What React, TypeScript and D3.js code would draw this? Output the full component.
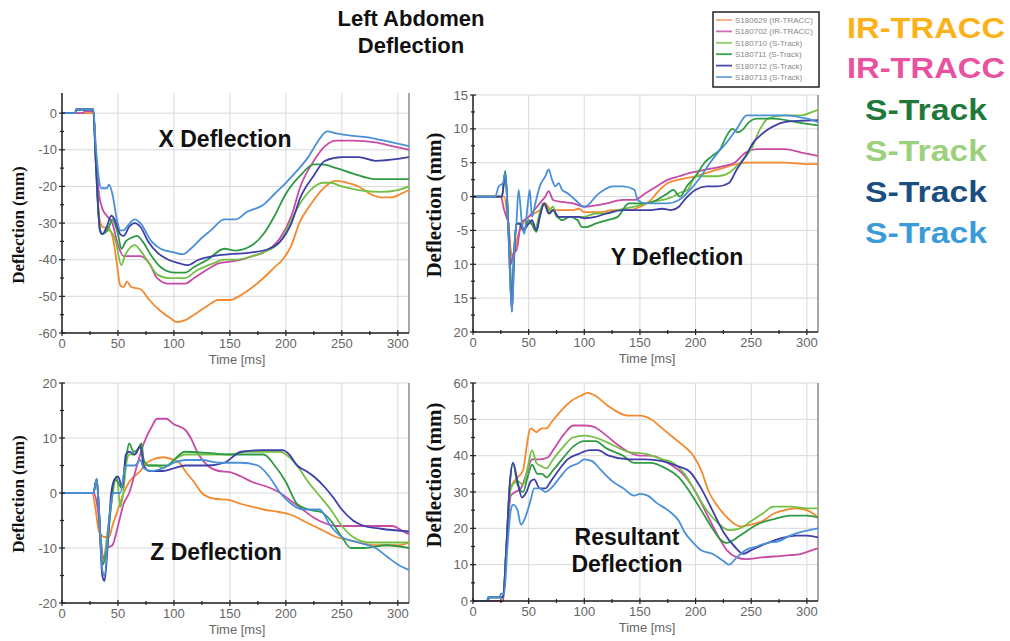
import React from "react";
import * as d3 from "d3";

type P = [number, number];

const SERIES_NAMES = ["S180629 (IR-TRACC)", "S180702 (IR-TRACC)", "S180710 (S-Track)", "S180711 (S-Track)", "S180712 (S-Track)", "S180713 (S-Track)"];
const SERIES_COLORS = ["#f5892e", "#c74aa6", "#74c044", "#2f9a44", "#3e3fa8", "#4a8fd8"];
const LEGEND_COLORS = ["#f7a784", "#cf6ab8", "#8ccc62", "#3aa34e", "#4a4ab0", "#6aa6e0"];

const SIDE_LABELS = ["IR-TRACC", "IR-TRACC", "S-Track", "S-Track", "S-Track", "S-Track"];
const SIDE_COLORS = ["#fbb21a", "#e8529e", "#1f7a3a", "#9bd07c", "#1a4e80", "#3a9bd8"];

const TIME_TICKS = [0, 50, 100, 150, 200, 250, 300];
const X_TICKS = [0, -10, -20, -30, -40, -50, -60];
const X_LABELS = ["0", "-10", "-20", "-30", "-40", "-50", "-60"];
const Y_TICKS = [15, 10, 5, 0, -5, -10, -15, -20];
const Y_LABELS = ["15", "10", "5", "0", "-5", "10", "15", "20"];
const Z_TICKS = [20, 10, 0, -10, -20];
const Z_LABELS = ["20", "10", "0", "-10", "-20"];
const R_TICKS = [0, 10, 20, 30, 40, 50, 60];
const R_LABELS = ["0", "10", "20", "30", "40", "50", "60"];

// X deflection
const X_629: P[] = [[0,0],[28,0],[30,-10],[33,-28],[36,-31],[42,-31.5],[46,-35],[49,-41],[52,-47],[55,-47.5],[58,-46],[62,-47.5],[70,-48],[78,-51],[88,-54],[97,-56],[103,-57],[110,-56.5],[118,-55],[128,-53],[140,-51],[150,-51],[158,-50],[168,-48],[180,-45],[190,-42],[197,-40],[205,-36],[212,-30],[222,-25],[232,-21],[245,-18.5],[255,-19],[265,-20],[275,-22],[285,-23],[295,-23],[303,-22],[310,-21]];
const X_702: P[] = [[0,0],[19,0],[20,0.5],[28,0.5],[30,-10],[33,-22],[36,-26],[40,-28],[45,-30],[50,-36],[55,-39],[62,-39],[70,-39],[78,-41],[85,-45],[95,-46.5],[110,-46.5],[118,-45],[128,-43],[140,-41],[150,-40.5],[160,-40],[170,-39],[180,-38],[195,-34],[205,-28],[213,-20],[225,-13],[235,-9],[245,-7.5],[260,-7.5],[280,-8],[295,-9],[310,-10]];
const X_710: P[] = [[0,0],[12,0],[12.5,1],[28,1],[30,-12],[34,-32],[36,-33],[42,-32],[48,-35],[53,-41.5],[56,-39],[60,-37],[65,-36],[70,-37.5],[78,-41],[85,-44],[95,-45],[110,-45],[120,-43],[135,-41],[145,-40],[155,-40],[170,-39],[180,-38],[195,-35],[202,-31],[212,-25],[222,-21],[233,-19],[240,-19],[250,-20],[265,-21],[285,-21.5],[300,-21],[310,-20]];
const X_711: P[] = [[0,0],[12,0],[12.5,1],[28,1],[30,-12],[34,-32],[36,-33],[42,-31],[45,-29],[50,-33],[53,-37],[57,-35],[62,-34],[67,-33.5],[72,-35],[80,-39],[88,-42],[100,-43.5],[110,-43.5],[118,-42],[130,-40],[145,-37],[155,-37.5],[170,-36],[180,-33],[190,-28],[200,-22],[213,-17],[225,-14],[232,-14],[245,-15],[260,-16.5],[280,-18],[310,-18]];
const X_712: P[] = [[0,0],[12,0],[12.5,1],[28,1],[30,-12],[34,-32],[36,-33],[40,-31],[44,-28],[47,-29],[52,-33],[55,-33.5],[60,-31],[65,-30],[70,-31],[77,-35],[85,-38],[95,-40],[105,-41],[112,-41.5],[122,-40],[135,-39],[150,-38.5],[170,-38],[185,-37],[195,-35],[205,-30],[213,-23],[225,-17],[235,-13],[250,-12],[265,-12],[280,-13],[300,-12.5],[310,-12]];
const X_713: P[] = [[0,0],[12,0],[12.5,1],[28,1],[30,-8],[33,-18],[35,-20.5],[40,-20.5],[42,-19.5],[45,-22],[49,-29],[52,-32],[55,-32],[58,-31],[65,-29],[70,-30],[80,-35],[88,-37],[100,-38],[108,-38.5],[115,-37],[125,-34],[133,-32],[145,-29],[155,-29],[165,-27],[180,-25],[190,-22],[200,-19],[212,-15],[220,-12],[228,-8],[237,-5],[245,-5.5],[255,-6],[270,-6.5],[280,-7],[295,-8],[310,-9]];

// Y deflection
const Y_629: P[] = [[0,0],[28,0],[31,-3],[34,-8],[36,-9],[40,-6],[45,-4],[50,-3],[55,-2.5],[60,-2],[65,-1],[70,-2],[80,-2],[90,-2],[95,-1.8],[100,-2.3],[115,-2.3],[125,-2],[140,-2],[150,-1.5],[160,-0.5],[165,0.5],[175,2],[185,2.5],[200,3],[210,3.5],[220,4],[230,4.5],[245,5],[260,5],[280,5],[300,4.8],[310,4.8]];
const Y_702: P[] = [[0,0],[25,0],[28,-2],[30,-3],[32,-4],[34,-10],[37,-8],[39,-8],[43,-4],[50,-3],[55,-2],[60,-1],[65,0],[68,0.8],[72,-0.5],[80,-0.8],[90,-1],[100,-1.5],[110,-1.3],[120,-1],[135,-0.5],[145,-0.5],[155,0.5],[165,1.5],[175,2.5],[185,3],[195,3.5],[210,4],[225,4.5],[235,5],[245,6.5],[255,7],[280,7],[295,6.5],[310,6]];
const Y_710: P[] = [[0,0],[26,0],[29,3.7],[32,-5],[35,-14],[37,-8],[39,-4],[43,-4],[46,-5],[49,-4],[52,-4],[56,-5],[59,-3],[63,-1],[68,-2],[72,-1.5],[75,-3],[80,-3],[90,-3],[100,-3],[110,-2.5],[120,-2.5],[130,-2],[145,-1.5],[155,-1],[170,-0.5],[180,0],[185,0.5],[193,1],[200,3],[210,3],[220,3],[230,3.5],[240,5],[250,7],[258,10],[265,11.5],[280,12],[295,12],[305,12.5],[310,12.8]];
const Y_711: P[] = [[0,0],[26,0],[29,3.8],[32,-5],[35,-14.5],[37,-8],[39,-4],[43,-4],[46,-5],[50,-3.5],[53,-4],[57,-5.2],[60,-3],[64,-1],[69,-2.5],[72,-2],[76,-3],[80,-3.5],[87,-3],[94,-3.5],[98,-4.5],[102,-4.5],[110,-4],[120,-3.5],[130,-3],[140,-1],[155,-1],[165,-0.5],[175,0.5],[180,1],[186,0],[192,1.5],[200,3],[208,5],[215,6],[222,7],[228,9],[233,10],[238,9.5],[243,10],[248,11],[255,11.5],[270,11.5],[290,11],[310,10.5]];
const Y_712: P[] = [[0,0],[26,0],[29,3.5],[32,-6],[35,-17],[37,-9],[39,-4],[42,-4],[45,-5],[50,-4],[53,-3.5],[57,-5],[60,-3],[64,-1],[68,-2.5],[72,-2],[77,-3],[85,-3],[95,-3],[100,-3.2],[110,-3],[120,-2.5],[135,-2],[150,-2],[160,-2],[170,-1.8],[178,-2],[185,-1.5],[190,-0.5],[200,1],[210,1.5],[220,1.5],[230,2],[237,4],[245,6],[252,8],[258,9],[266,10],[280,11],[295,11.2],[310,11.3]];
const Y_713: P[] = [[0,0],[20,0],[23,1.5],[27,2],[29,3.5],[32,-6],[35,-17],[37,-8],[39,-4],[41,1],[44,-4],[46,-5.5],[49,-1.5],[51,1],[53,-3],[56,-1],[60,1.5],[65,3],[68,4],[71,2.5],[74,1.5],[77,2],[80,1],[85,0.5],[92,-0.5],[100,-1.5],[105,-1],[110,0],[118,1],[125,1.5],[135,1.5],[145,1],[148,-0.5],[155,-1],[165,-1],[175,-1],[185,-0.5],[195,1],[205,3],[213,5],[220,6.5],[228,8],[237,10],[246,12],[260,12],[280,12],[300,11.5],[310,11]];

// Z deflection
const Z_629: P[] = [[0,0],[27,0],[30,-3],[33,-7],[38,-8],[42,-8],[45,-6],[50,-3],[55,0],[60,2],[70,4],[76,5.5],[80,6],[90,6.5],[100,6],[105,5.5],[110,4],[118,2],[125,0],[135,-1],[150,-1.3],[160,-2],[170,-2.5],[180,-3],[195,-3.5],[205,-4],[215,-5],[225,-6],[235,-7],[245,-8],[255,-8.5],[265,-9],[280,-9.5],[300,-9.5],[310,-9]];
const Z_702: P[] = [[0,0],[28,0],[32,-3],[35,-9],[37,-12],[40,-10],[45,-9.5],[50,-6],[55,-2],[60,0],[67,5],[73,9],[80,12],[85,13.5],[93,13.5],[100,12.5],[110,11.5],[115,10],[122,7],[130,5],[140,4],[150,3.8],[160,3],[170,2],[185,1],[195,0],[205,-1.5],[215,-3],[225,-4.5],[235,-5.5],[245,-6],[260,-6],[280,-6],[295,-6],[305,-7],[310,-7.5]];
const Z_710: P[] = [[0,0],[28,0],[31,2.5],[33,-3],[35,-10],[37,-13],[40,-8],[44,-2],[47,2],[49,3],[52,-2.5],[54,-1],[58,6],[60,7],[65,7],[70,8.5],[73,6],[77,5],[85,5],[90,4.5],[100,6],[110,7],[130,7],[150,7],[165,7.5],[180,7.5],[195,7.5],[200,7],[210,5],[220,2],[228,0],[240,-3],[250,-6],[260,-8],[275,-9],[300,-9],[310,-9]];
const Z_711: P[] = [[0,0],[28,0],[31,2.5],[33,-3],[36,-13],[40,-10],[44,-2],[47,2.5],[50,2],[53,1],[57,6],[60,9],[64,7.5],[68,8],[71,9],[73,6],[77,5],[85,5],[95,5],[100,6],[110,7.5],[130,7.3],[150,7],[165,7],[180,7],[190,5],[200,2],[210,-2],[220,-3],[232,-3.5],[240,-5],[250,-8],[258,-10],[270,-10],[290,-9.5],[310,-10]];
const Z_712: P[] = [[0,0],[28,0],[31,2.5],[33,-3],[36,-15],[38,-16],[40,-12],[44,0],[47,2.5],[50,3],[54,1],[57,7],[60,7.5],[65,7],[70,8.5],[73,5],[78,4],[90,4],[100,4.5],[110,5],[130,5],[145,5.5],[160,7.5],[180,7.8],[197,7.8],[203,7],[210,5],[218,4],[225,3],[235,1],[243,-1],[250,-3],[260,-5],[270,-6],[285,-6.5],[310,-7]];
const Z_713: P[] = [[0,0],[28,0],[31,2.5],[33,-3],[36,-14],[38,-15],[42,-5],[46,0],[52,0],[57,5],[62,5],[65,5],[70,6],[73,4.5],[80,4],[90,4.5],[100,5.5],[110,6],[125,6],[140,5.5],[160,5.5],[175,5],[185,3],[195,0],[205,-2],[215,-3],[230,-3],[240,-6],[250,-8],[265,-9],[280,-10],[290,-11.5],[300,-13],[310,-14]];

// Resultant deflection
const R_629: P[] = [[0,0],[27,0],[30,15],[33,30],[35,32],[40,34],[45,36],[48,42],[50,46],[52,47.5],[57,46.5],[62,47.5],[66,47.5],[70,49],[78,52],[88,55],[97,56.5],[103,57.3],[110,56.5],[120,54],[130,52],[140,51],[150,51],[160,50],[170,47.5],[180,45],[190,42.5],[198,40],[205,36],[212,30],[220,26],[230,22.5],[240,20.5],[250,21],[260,22],[270,24],[280,25],[290,25.5],[300,25],[310,23]];
const R_702: P[] = [[0,0],[27,0],[30,14],[34,29],[38,30],[43,31],[48,35],[53,39],[60,39],[67,39.5],[73,42],[82,46],[90,48.3],[100,48.3],[108,48],[118,46],[130,43],[140,41],[150,40],[160,40],[175,38],[190,34.5],[200,30],[210,24],[220,18],[228,14],[237,12],[245,11.5],[260,12],[280,12.5],[295,13],[305,14],[310,14.5]];
const R_710: P[] = [[0,0],[14,0],[14.5,1],[27,1],[30,15],[34,31],[40,33],[45,32],[50,38],[53,41.5],[57,38],[62,37],[66,36.5],[72,39],[80,42],[90,45],[100,45.5],[110,45],[125,43],[140,41],[155,40.5],[170,39],[180,38],[190,35],[200,30],[210,25],[220,21.5],[230,19.5],[240,20],[250,22],[260,24],[270,26],[285,26],[300,25.5],[310,25.5]];
const R_711: P[] = [[0,0],[13,0],[13.5,1],[27,1],[30,15],[33,32],[36,38],[40,32],[45,30],[49,34],[53,37.5],[58,35],[62,35],[66,34],[72,36],[80,39],[90,42.5],[100,44],[110,44],[120,42],[135,40],[145,38],[160,38],[170,37],[185,34],[197,29],[207,24],[215,20],[222,17],[228,16],[240,18],[255,21],[270,22.5],[285,23.5],[300,23.5],[310,23]];
const R_712: P[] = [[0,0],[13,0],[13.5,1],[27,1],[30,15],[33,32],[36,38],[40,33],[44,28.5],[48,30],[52,33],[55,33.5],[60,31],[65,31],[70,33],[77,36],[85,39],[95,40.5],[105,41.5],[112,41.5],[122,40],[140,39],[155,39],[170,38.5],[185,37],[195,35.5],[205,31],[215,25],[225,19],[235,15],[243,13],[250,14],[265,16],[280,17.5],[290,18],[300,18],[310,17.5]];
const R_713: P[] = [[0,0],[13,0],[13.5,1],[24,1],[25,2],[28,2],[31,15],[34,25],[36,26.5],[40,25],[43,21],[47,23],[52,28],[55,31],[60,31],[65,30],[70,31],[78,34],[85,36.5],[95,38],[100,39],[107,38.5],[115,36],[125,33],[135,31],[145,29],[150,29.5],[157,29],[165,27],[175,25],[185,22],[190,19],[198,16],[205,14],[215,13],[225,11],[230,10],[237,12],[245,14],[255,15],[265,16],[275,16.5],[285,18],[295,19],[310,20]];

interface PanelProps {
  left: number; right: number; top: number; bottom: number;
  yDomain: [number, number];
  yTicks: number[]; yLabels: string[];
  series: P[][];
  ytitleX: number; ytitleY: number; ytitleSize: number;
  labelLines: string[]; labelX: number; labelY: number;
  timeX: number;
}

const SANS = "Liberation Sans, Arial, sans-serif";

function Panel(p: PanelProps) {
  const x = d3.scaleLinear().domain([0, 310]).range([p.left, p.right]);
  const y = d3.scaleLinear().domain(p.yDomain).range([p.bottom, p.top]);
  const line = d3.line<P>().x(d => x(d[0])).y(d => y(d[1])).curve(d3.curveMonotoneX);
  const minorX = d3.range(25, 310, 50);
  const step = Math.abs(p.yTicks[0] - p.yTicks[1]);
  const minorY = p.yTicks.slice(0, -1).map(v => (v + (p.yTicks[0] > p.yTicks[1] ? -step / 2 : step / 2)));
  const axisY = p.bottom;
  const cid = "clip" + p.left + "_" + p.top;
  return (
    <g>
      {TIME_TICKS.map(t => (
        <line key={"gx" + t} x1={x(t)} x2={x(t)} y1={p.top} y2={p.bottom} stroke="#d9d9d9" strokeWidth={1} />
      ))}
      {p.yTicks.map(v => (
        <line key={"gy" + v} x1={p.left} x2={p.right} y1={y(v)} y2={y(v)} stroke="#d9d9d9" strokeWidth={1} />
      ))}
      <line x1={p.right} x2={p.right} y1={p.top} y2={p.bottom} stroke="#555" strokeWidth={1} />
      <clipPath id={cid}>
        <rect x={p.left} y={p.top - 2} width={p.right - p.left} height={p.bottom - p.top + 4} />
      </clipPath>
      <g clipPath={`url(#${cid})`}>
        {p.series.map((s, i) => (
          <path key={i} d={line(s) || ""} fill="none" stroke={SERIES_COLORS[i]} strokeWidth={1.8} strokeLinejoin="round" />
        ))}
      </g>
      <line x1={p.left} x2={p.left} y1={p.top} y2={p.bottom} stroke="#222" strokeWidth={1.5} />
      <line x1={p.left} x2={p.right} y1={axisY} y2={axisY} stroke="#222" strokeWidth={1.5} />
      {TIME_TICKS.map(t => (
        <g key={"tx" + t}>
          <line x1={x(t)} x2={x(t)} y1={axisY - 3} y2={axisY + 3} stroke="#222" strokeWidth={1.2} />
          <text x={x(t)} y={axisY + 15} textAnchor="middle" fontSize={13} fill="#666" fontFamily={SANS}>{t}</text>
        </g>
      ))}
      {minorX.map(t => (
        <line key={"mx" + t} x1={x(t)} x2={x(t)} y1={axisY - 2} y2={axisY + 2} stroke="#222" strokeWidth={1.2} />
      ))}
      {p.yTicks.map((v, i) => (
        <g key={"ty" + v}>
          <line x1={p.left - 3} x2={p.left + 3} y1={y(v)} y2={y(v)} stroke="#222" strokeWidth={1.2} />
          <text x={p.left - 5} y={y(v) + 4.5} textAnchor="end" fontSize={13} fill="#666" fontFamily={SANS}>{p.yLabels[i]}</text>
        </g>
      ))}
      {minorY.map(v => (
        <line key={"my" + v} x1={p.left - 2} x2={p.left + 2} y1={y(v)} y2={y(v)} stroke="#222" strokeWidth={1.2} />
      ))}
      <text x={p.timeX} y={axisY + 31} textAnchor="middle" fontSize={13} fill="#666" fontFamily={SANS}>Time [ms]</text>
      <text transform={`translate(${p.ytitleX},${p.ytitleY}) rotate(-90)`} textAnchor="middle" fontSize={p.ytitleSize} fontWeight="bold" fill="#111" fontFamily="Liberation Serif, Times New Roman, serif" dominantBaseline="middle">Deflection (mm)</text>
      {p.labelLines.map((l, i) => (
        <text key={l} x={p.labelX} y={p.labelY + i * 27} textAnchor="middle" fontSize={23} fontWeight="bold" fill="#111" fontFamily={SANS}>{l}</text>
      ))}
    </g>
  );
}

const SIDE_Y = [38, 78, 120, 161, 202, 243];

export default function App() {
  return (
    <svg width={1010} height={641} style={{ position: "absolute", left: 0, top: 0, background: "#fff" }}>
      <rect x={0} y={0} width={1010} height={641} fill="#fff" />
      <text x={411} y={26} textAnchor="middle" fontSize={22} fontWeight="bold" fill="#111" fontFamily={SANS}>Left Abdomen</text>
      <text x={411} y={53} textAnchor="middle" fontSize={22} fontWeight="bold" fill="#111" fontFamily={SANS}>Deflection</text>

      <Panel left={62} right={409} top={93} bottom={333} yDomain={[-60, 5.5]} yTicks={X_TICKS} yLabels={X_LABELS}
        series={[X_629, X_702, X_710, X_711, X_712, X_713]} ytitleX={20} ytitleY={225} ytitleSize={17}
        labelLines={["X Deflection"]} labelX={225} labelY={147} timeX={237} />
      <Panel left={473} right={818} top={95} bottom={332} yDomain={[-20, 15]} yTicks={Y_TICKS} yLabels={Y_LABELS}
        series={[Y_629, Y_702, Y_710, Y_711, Y_712, Y_713]} ytitleX={436} ytitleY={205} ytitleSize={21}
        labelLines={["Y Deflection"]} labelX={677} labelY={265} timeX={647} />
      <Panel left={62} right={409} top={383} bottom={603} yDomain={[-20, 20]} yTicks={Z_TICKS} yLabels={Z_LABELS}
        series={[Z_629, Z_702, Z_710, Z_711, Z_712, Z_713]} ytitleX={20} ytitleY={494} ytitleSize={17}
        labelLines={["Z Deflection"]} labelX={216} labelY={560} timeX={237} />
      <Panel left={473} right={818} top={383} bottom={601} yDomain={[0, 60]} yTicks={R_TICKS} yLabels={R_LABELS}
        series={[R_629, R_702, R_710, R_711, R_712, R_713]} ytitleX={436} ytitleY={475} ytitleSize={21}
        labelLines={["Resultant", "Deflection"]} labelX={627} labelY={545} timeX={647} />

      <rect x={713} y={12} width={106} height={75} fill="#fff" stroke="#222" strokeWidth={1.5} />
      {SERIES_NAMES.map((n, i) => (
        <g key={n}>
          <line x1={716} x2={732} y1={20 + i * 11.4} y2={20 + i * 11.4} stroke={LEGEND_COLORS[i]} strokeWidth={1.8} />
          <text x={735} y={23 + i * 11.4} fontSize={8} fill="#888" fontFamily={SANS}>{n}</text>
        </g>
      ))}

      {SIDE_LABELS.map((s, i) => (
        <text key={i} x={926} y={SIDE_Y[i]} textAnchor="middle" fontSize={29} fontWeight="bold" fill={SIDE_COLORS[i]} fontFamily={SANS}
          textLength={s === "IR-TRACC" ? 158 : 122} lengthAdjust="spacingAndGlyphs">{s}</text>
      ))}
    </svg>
  );
}
